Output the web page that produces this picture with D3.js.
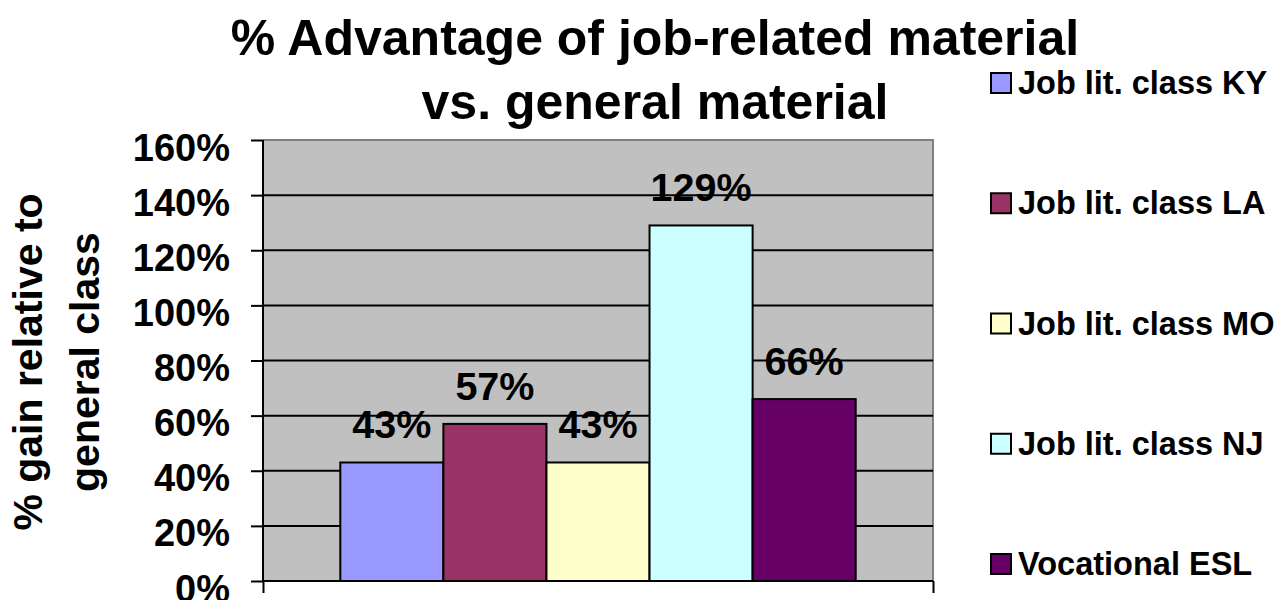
<!DOCTYPE html>
<html>
<head>
<meta charset="utf-8">
<script src="https://cdn.jsdelivr.net/npm/d3@7"></script>
<style>
  html, body { margin: 0; padding: 0; background: #fff; }
  svg { display: block; font-family: "Liberation Sans", Arial, sans-serif; font-weight: bold; }
</style>
</head>
<body>
<svg id="chart" width="1274" height="600"></svg>
<script>
const seriesNames = ["Job lit. class KY", "Job lit. class LA", "Job lit. class MO", "Job lit. class NJ", "Vocational ESL"];
const seriesValues = [43, 57, 43, 129, 66];
const seriesColors = ["#9999FF", "#993366", "#FFFFCC", "#CCFFFF", "#660066"];
const yTicks = [0, 20, 40, 60, 80, 100, 120, 140, 160];
const titleLines = ["% Advantage of job-related material", "vs. general material"];
const yTitleLines = ["% gain relative to", "general class"];

const svg = d3.select("#chart");
const plot = { left: 263, right: 933, top: 140, bottom: 581 };

const y = d3.scaleLinear().domain([0, 160]).range([plot.bottom, plot.top]);
const x = d3.scaleBand().domain(seriesNames)
  .range([plot.left, plot.right]).paddingInner(0).paddingOuter(0.75);

// plot background
svg.append("rect")
  .attr("x", plot.left).attr("y", plot.top)
  .attr("width", plot.right - plot.left).attr("height", plot.bottom - plot.top)
  .attr("fill", "#C0C0C0");

// top & right border (gray)
svg.append("path")
  .attr("d", `M${plot.left},${plot.top}H${plot.right}V${plot.bottom}`)
  .attr("fill", "none").attr("stroke", "#808080").attr("stroke-width", 2);

// gridlines
svg.append("g").selectAll("line")
  .data(yTicks.filter(d => d > 0 && d < 160))
  .join("line")
  .attr("x1", plot.left).attr("x2", plot.right)
  .attr("y1", d => y(d)).attr("y2", d => y(d))
  .attr("stroke", "#000").attr("stroke-width", 2);

// bars
svg.append("g").selectAll("rect")
  .data(seriesNames)
  .join("rect")
  .attr("x", d => x(d))
  .attr("width", x.bandwidth())
  .attr("y", (d, i) => y(seriesValues[i]))
  .attr("height", (d, i) => y(0) - y(seriesValues[i]))
  .attr("fill", (d, i) => seriesColors[i])
  .attr("stroke", "#000").attr("stroke-width", 2);

// value labels
svg.append("g").selectAll("text")
  .data(seriesNames)
  .join("text")
  .attr("x", d => x(d) + x.bandwidth() / 2)
  .attr("y", (d, i) => y(seriesValues[i]) - 24)
  .attr("text-anchor", "middle")
  .attr("font-size", 39.5)
  .attr("fill", "#000")
  .text((d, i) => seriesValues[i] + "%");

// y axis
const yAxis = d3.axisLeft(y).tickValues(yTicks).tickSize(12).tickPadding(21)
  .tickFormat(d => d + "%");
const gy = svg.append("g").attr("transform", `translate(${plot.left},0)`).call(yAxis);
gy.select(".domain").attr("stroke", "#000").attr("stroke-width", 2)
  .attr("d", `M0,${plot.top}V${plot.bottom}`);
gy.selectAll(".tick line").attr("stroke", "#000").attr("stroke-width", 2);
gy.selectAll(".tick text")
  .attr("font-size", 38).attr("font-family", "Liberation Sans, Arial, sans-serif")
  .attr("font-weight", "bold").attr("fill", "#000")
  .attr("dy", null).attr("y", 20);

// x axis (baseline with end ticks)
const xEdge = d3.scaleLinear().domain([0, 1]).range([plot.left, plot.right]);
const xAxis = d3.axisBottom(xEdge).tickValues([0, 1]).tickSize(12).tickFormat("");
const gx = svg.append("g").attr("transform", `translate(0,${plot.bottom})`).call(xAxis);
gx.select(".domain").attr("stroke", "#000").attr("stroke-width", 2)
  .attr("d", `M${plot.left},0H${plot.right}`);
gx.selectAll(".tick line").attr("stroke", "#000").attr("stroke-width", 2);

// title
svg.append("text")
  .attr("text-anchor", "middle").attr("font-size", 50).attr("fill", "#000")
  .selectAll("tspan").data(titleLines).join("tspan")
  .attr("x", 655).attr("y", (d, i) => 55 + i * 64)
  .text(d => d);

// y axis title
svg.append("text")
  .attr("transform", "translate(0,362) rotate(-90)")
  .attr("text-anchor", "middle").attr("font-size", 41).attr("fill", "#000")
  .selectAll("tspan").data(yTitleLines).join("tspan")
  .attr("x", 0).attr("y", (d, i) => 42 + i * 57)
  .text(d => d);

// legend
const legend = svg.append("g").selectAll("g")
  .data(seriesNames)
  .join("g")
  .attr("transform", (d, i) => `translate(991,${83 + i * 120.25})`);
legend.append("rect")
  .attr("x", 0).attr("y", -10).attr("width", 20).attr("height", 20)
  .attr("fill", (d, i) => seriesColors[i])
  .attr("stroke", "#000").attr("stroke-width", 2);
legend.append("text")
  .attr("x", 27).attr("y", 11)
  .attr("font-size", 32.5).attr("fill", "#000")
  .text(d => d);
</script>
</body>
</html>
